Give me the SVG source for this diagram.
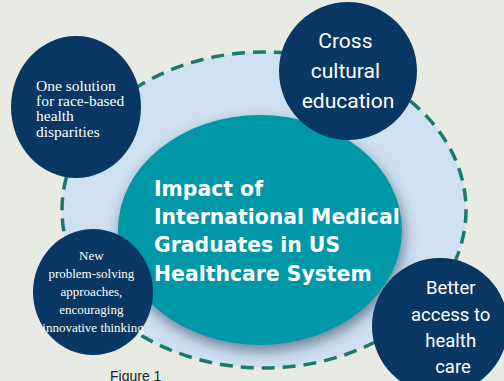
<svg xmlns="http://www.w3.org/2000/svg" width="504" height="381" viewBox="0 0 504 381">
  <defs>
    <filter id="shadow" x="-20%" y="-20%" width="140%" height="150%">
      <feDropShadow dx="2" dy="6" stdDeviation="7" flood-color="#2c3e5c" flood-opacity="0.6"/>
    </filter>
  </defs>
  <style>
    .bubble { fill: #083763; }
    .serif { font-family: "Liberation Serif", "Times New Roman", serif; fill: #ffffff; }
    .sans { font-family: Roboto, "Liberation Sans", Arial, sans-serif; fill: #ffffff; text-anchor: middle; }
    .title { font-family: "DejaVu Sans", Verdana, sans-serif; font-weight: bold; font-size: 20.4px; fill: #ffffff; }
  </style>
  <rect width="504" height="381" fill="#e7ebe4"/>

  <g id="outer-ring">
    <ellipse cx="264" cy="210" rx="202" ry="158" fill="#cfe1f1" stroke="#1b7a6c" stroke-width="3.5" stroke-dasharray="13 8"/>
  </g>

  <g id="center">
    <ellipse cx="260" cy="230" rx="142" ry="115" fill="#0097a7" filter="url(#shadow)"/>
    <text class="title" x="154" y="196">Impact of</text>
    <text class="title" x="154" y="224">International Medical</text>
    <text class="title" x="154" y="252">Graduates in US</text>
    <text class="title" x="154" y="281">Healthcare System</text>
  </g>

  <g id="node-race">
    <ellipse class="bubble" cx="76" cy="107" rx="65" ry="71"/>
    <text class="serif" font-size="15.5" x="36">
      <tspan x="36" y="91">One solution</tspan>
      <tspan x="36" y="106">for race-based</tspan>
      <tspan x="36" y="121">health</tspan>
      <tspan x="36" y="137">disparities</tspan>
    </text>
  </g>

  <g id="node-cultural">
    <circle class="bubble" cx="348" cy="71" r="69"/>
    <text class="sans" font-size="21">
      <tspan x="348" y="48">Cross</tspan>
      <tspan x="348" y="78">cultural</tspan>
      <tspan x="348" y="108">education</tspan>
    </text>
  </g>

  <g id="node-problem">
    <ellipse class="bubble" cx="93" cy="292" rx="60" ry="63"/>
    <text class="serif" font-size="13" text-anchor="middle">
      <tspan x="93" y="260">New</tspan>
      <tspan x="93" y="278">problem-solving</tspan>
      <tspan x="93" y="296">approaches,</tspan>
      <tspan x="93" y="314">encouraging</tspan>
      <tspan x="93" y="332">innovative thinking</tspan>
    </text>
  </g>

  <g id="node-access">
    <circle class="bubble" cx="440" cy="326" r="68"/>
    <text class="sans" font-size="18.5">
      <tspan x="453" y="294">Better</tspan>
      <tspan x="453" y="321">access to</tspan>
      <tspan x="453" y="347">health</tspan>
      <tspan x="453" y="373">care</tspan>
    </text>
  </g>

  <text x="110" y="381" font-family="Liberation Sans, Arial, sans-serif" font-size="14" fill="#222222">Figure 1</text>
</svg>
